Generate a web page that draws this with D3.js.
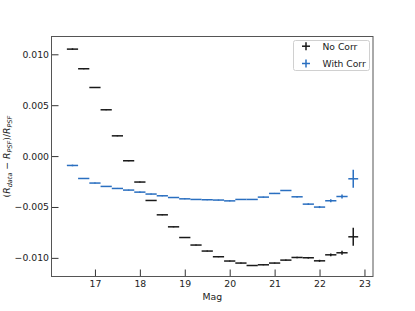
<!DOCTYPE html>
<html>
<head>
<meta charset="utf-8">
<script src="https://cdn.jsdelivr.net/npm/d3@7"></script>
<style>
  body { margin: 0; background: white; }
  svg { display: block; font-family: "DejaVu Sans", sans-serif; }
</style>
</head>
<body>
<div id="chart"></div>
<script>
// magnitude bins (centres) and horizontal half-widths
const mag = [16.5, 16.75, 17.0, 17.25, 17.5, 17.75, 18.0, 18.25, 18.5, 18.75, 19.0, 19.25, 19.5,
  19.75, 20.0, 20.25, 20.5, 20.75, 21.0, 21.25, 21.5, 21.75, 22.0, 22.25, 22.5, 22.75];
const magErr = [0.125, 0.125, 0.125, 0.125, 0.125, 0.125, 0.125, 0.125, 0.125, 0.125, 0.125, 0.125, 0.125,
  0.125, 0.125, 0.125, 0.125, 0.125, 0.125, 0.125, 0.125, 0.125, 0.125, 0.125, 0.125, 0.11];

const noCorr = [0.01051, 0.00858, 0.00674, 0.00455, 0.00199, -0.00046, -0.00255, -0.00436, -0.00577,
  -0.00695, -0.0080, -0.00874, -0.00933, -0.00989, -0.01031, -0.01051, -0.01075, -0.01068, -0.01051,
  -0.01022, -0.00996, -0.00999, -0.01029, -0.0097, -0.0095, -0.00793];
const withCorr = [-0.00092, -0.0022, -0.00265, -0.00298, -0.00318, -0.00334, -0.00354, -0.00373, -0.0039,
  -0.00407, -0.0042, -0.00426, -0.00429, -0.00432, -0.0044, -0.00426, -0.00426, -0.00403, -0.00367,
  -0.00338, -0.004, -0.00472, -0.00501, -0.00439, -0.00397, -0.00223];
const yErr = [0.00008, 0.00005, 0.00005, 0.00005, 0.00005, 0.00005, 0.00005, 0.00005, 0.00005, 0.00005,
  0.00005, 0.00005, 0.00005, 0.00005, 0.00005, 0.00005, 0.00005, 0.00005, 0.00005, 0.00006, 0.00007,
  0.00008, 0.0001, 0.00014, 0.0002, 0.00088];

const xTicks = [17, 18, 19, 20, 21, 22, 23];
const yTicks = [-0.010, -0.005, 0.000, 0.005, 0.010];

const series = [
  { name: "No Corr", values: noCorr, color: "#1a1a1a" },
  { name: "With Corr", values: withCorr, color: "#2a6fc0" }
];

const width = 415, height = 311;
const margin = { left: 51.5, right: 42, top: 36.5, bottom: 34.5 };

const svg = d3.select("#chart").append("svg")
  .attr("width", width)
  .attr("height", height);

const x = d3.scaleLinear().domain([16.033, 23.19]).range([margin.left, width - margin.right]);
const y = d3.scaleLinear().domain([-0.01183, 0.01175]).range([height - margin.bottom, margin.top]);

const fmt = d3.format(".3f");
const tickFont = "9.3px";

// axes (inward ticks, no domain line; frame drawn separately)
const xAxis = svg.append("g")
  .attr("transform", `translate(0,${height - margin.bottom})`)
  .call(d3.axisBottom(x).tickValues(xTicks).tickSizeInner(-7).tickSizeOuter(0).tickPadding(4).tickFormat(d3.format("d")));
const yAxis = svg.append("g")
  .attr("transform", `translate(${margin.left},0)`)
  .call(d3.axisLeft(y).tickValues(yTicks).tickSizeInner(-7).tickSizeOuter(0).tickPadding(2.5)
    .tickFormat(d => fmt(d).replace("-", "\u2212")));

[xAxis, yAxis].forEach(a => {
  a.select(".domain").remove();
  a.selectAll(".tick line").attr("stroke", "#333").attr("stroke-width", 1);
  a.selectAll(".tick text").attr("fill", "#222").style("font-size", tickFont).style("font-family", "DejaVu Sans");
});

// error bars
const plot = svg.append("g");
series.forEach(s => {
  const g = plot.append("g").attr("stroke", s.color).attr("stroke-width", 1.5);
  g.selectAll("line.h")
    .data(mag)
    .join("line")
    .attr("class", "h")
    .attr("x1", (d, i) => x(d - magErr[i]))
    .attr("x2", (d, i) => x(d + magErr[i]))
    .attr("y1", (d, i) => y(s.values[i]))
    .attr("y2", (d, i) => y(s.values[i]));
  g.selectAll("line.v")
    .data(mag)
    .join("line")
    .attr("class", "v")
    .attr("x1", d => x(d))
    .attr("x2", d => x(d))
    .attr("y1", (d, i) => y(s.values[i] - yErr[i]))
    .attr("y2", (d, i) => y(s.values[i] + yErr[i]));
});

// frame
svg.append("rect")
  .attr("x", margin.left)
  .attr("y", margin.top)
  .attr("width", width - margin.left - margin.right)
  .attr("height", height - margin.top - margin.bottom)
  .attr("fill", "none")
  .attr("stroke", "#555")
  .attr("stroke-width", 1);

// axis labels
svg.append("text")
  .attr("x", (margin.left + width - margin.right) / 2)
  .attr("y", 299.5)
  .attr("text-anchor", "middle")
  .attr("fill", "#222")
  .style("font-size", "9.3px")
  .text("Mag");

const yl = svg.append("text")
  .attr("transform", `translate(10,${(margin.top + height - margin.bottom) / 2}) rotate(-90)`)
  .attr("text-anchor", "middle")
  .attr("fill", "#222")
  .style("font-size", "9.3px")
  .style("font-style", "italic");
yl.append("tspan").style("font-style", "normal").text("(");
yl.append("tspan").text("R");
yl.append("tspan").attr("dy", 2).style("font-size", "6.5px").text("data");
yl.append("tspan").attr("dy", -2).style("font-style", "normal").text(" \u2212 ");
yl.append("tspan").text("R");
yl.append("tspan").attr("dy", 2).style("font-size", "6.5px").text("PSF");
yl.append("tspan").attr("dy", -2).style("font-style", "normal").text(")/");
yl.append("tspan").text("R");
yl.append("tspan").attr("dy", 2).style("font-size", "6.5px").text("PSF");

// legend
const lg = svg.append("g").attr("transform", "translate(293.5,40.5)");
lg.append("rect")
  .attr("width", 76)
  .attr("height", 30)
  .attr("rx", 2)
  .attr("fill", "white")
  .attr("stroke", "#d0d0d0")
  .attr("stroke-width", 1);
series.forEach((s, i) => {
  const cy = 5.7 + i * 17.3;
  const item = lg.append("g").attr("transform", `translate(0,${cy})`);
  item.append("line").attr("x1", 8.5).attr("x2", 16.5).attr("y1", 0).attr("y2", 0)
    .attr("stroke", s.color).attr("stroke-width", 1.5);
  item.append("line").attr("x1", 12.5).attr("x2", 12.5).attr("y1", -4).attr("y2", 4)
    .attr("stroke", s.color).attr("stroke-width", 1.5);
  item.append("text")
    .attr("x", 29)
    .attr("y", 3.3)
    .attr("fill", "#222")
    .style("font-size", "9.2px")
    .text(s.name);
});
</script>
</body>
</html>
